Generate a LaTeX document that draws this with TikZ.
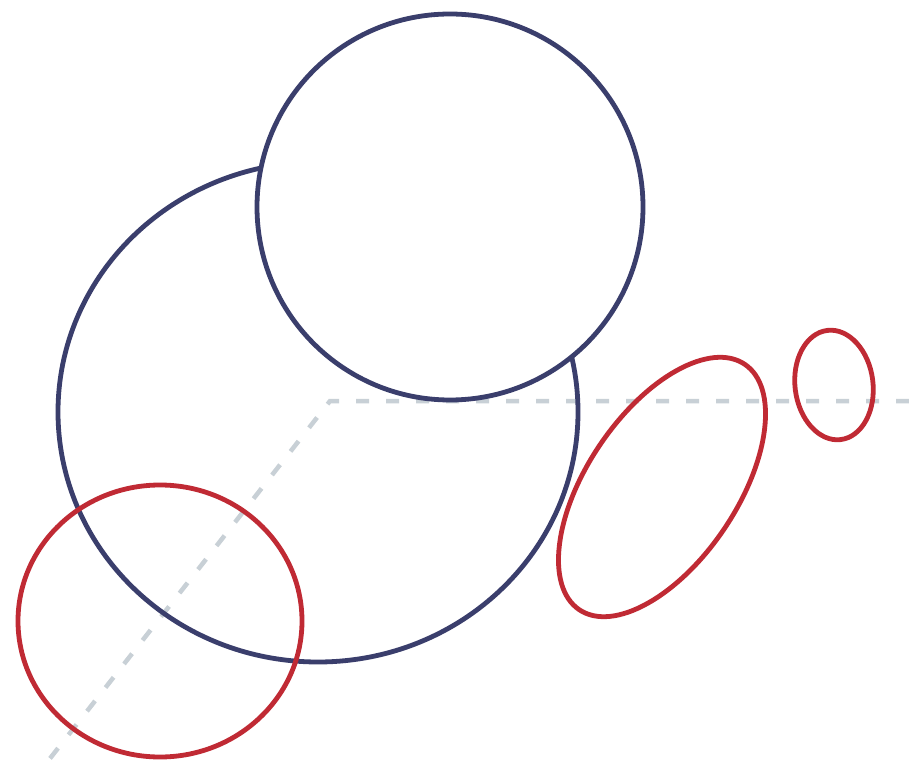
\documentclass[tikz,border=0pt]{standalone}
\begin{document}
\begin{tikzpicture}[x=1pt,y=1pt,
  bluering/.style={draw=blueline,line width=4.8pt},
  redring/.style={draw=redline,line width=4.8pt},
  guide/.style={draw=guidegray,line width=4.5pt,dash pattern=on 13pt off 17pt}]
\definecolor{blueline}{RGB}{58,62,108}
\definecolor{redline}{RGB}{192,42,52}
\definecolor{guidegray}{RGB}{200,208,214}
\fill[white] (0,0) rectangle (909,761);
\useasboundingbox (0,0) rectangle (909,761);
% guide lines
\coordinate (corner) at (330,360);
\coordinate (rightend) at (909,360);
\coordinate (lowend) at (48,0);
\draw[guide] (rightend) -- (corner) -- (lowend);
% big blue ellipse
\draw[bluering] (318,349) ellipse [x radius=260, y radius=250];
% upper blue circle (covers big one)
\draw[bluering,fill=white] (450,554) circle [radius=193];
% red shapes
\draw[redring] (160,140) ellipse [x radius=142, y radius=136];
\draw[redring,rotate around={56:(662,274)}] (662,274) ellipse [x radius=148, y radius=75];
\draw[redring,rotate around={7:(834,376)}] (834,376) ellipse [x radius=39, y radius=55];
\end{tikzpicture}
\end{document}
